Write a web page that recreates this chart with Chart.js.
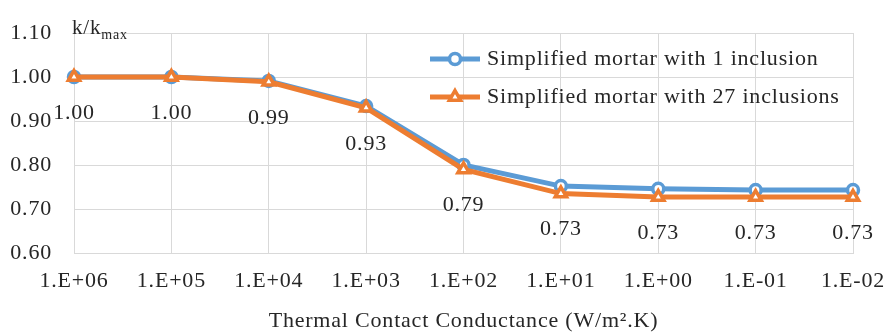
<!DOCTYPE html>
<html>
<head>
<meta charset="utf-8">
<script src="https://cdn.jsdelivr.net/npm/chart.js@4.4.1/dist/chart.umd.min.js"></script>
<style>
    html, body { margin: 0; padding: 0; background: #fff; }
    #wrap { width: 888px; height: 336px; position: relative; }
</style>
</head>
<body>
<div id="wrap"><canvas id="chart"></canvas></div>
<script>
// valeurs
const conductance = ["1.E+06", "1.E+05", "1.E+04", "1.E+03", "1.E+02", "1.E+01", "1.E+00", "1.E-01", "1.E-02"];
const one_inclusion = [1.00, 1.00, 0.991, 0.934, 0.800, 0.752, 0.746, 0.743, 0.743];
const many_inclusions = [1.00, 1.00, 0.989, 0.930, 0.790, 0.735, 0.727, 0.727, 0.727];
const y_ticks = [0.60, 0.70, 0.80, 0.90, 1.00, 1.10];

const serif = "'Liberation Serif', 'Times New Roman', serif";
const text_color = "#262626";
const blue = "#5B9BD5";
const orange = "#ED7D31";
const spacing = "0.8px";

// espacement des lettres comme dans la figure
const spacing_plugin = {
    id: "spacing",
    beforeUpdate(chart) {
        chart.ctx.letterSpacing = spacing;
    },
    beforeDraw(chart) {
        chart.ctx.letterSpacing = spacing;
    },
};

// etiquettes sous les points de la serie 27 inclusions
const label_plugin = {
    id: "valueLabels",
    afterDatasetsDraw(chart) {
        const ctx = chart.ctx;
        const meta = chart.getDatasetMeta(1);
        ctx.save();
        ctx.font = "22px " + serif;
        ctx.fillStyle = text_color;
        ctx.textAlign = "center";
        ctx.textBaseline = "middle";
        meta.data.forEach((pt, i) => {
            ctx.fillText(many_inclusions[i].toFixed(2), pt.x, pt.y + 36);
        });
        ctx.restore();
    },
};

// legende dans la zone du graphe + titre de l'axe y
const extras_plugin = {
    id: "extras",
    afterDraw(chart) {
        const ctx = chart.ctx;
        ctx.save();
        // k/kmax
        ctx.fillStyle = text_color;
        ctx.textBaseline = "alphabetic";
        ctx.textAlign = "left";
        ctx.font = "21px " + serif;
        ctx.fillText("k/k", 72, 34);
        const w = ctx.measureText("k/k").width;
        ctx.font = "14px " + serif;
        ctx.fillText("max", 72 + w, 39);

        const rows = [
            { ds: chart.data.datasets[0], y: 59 },
            { ds: chart.data.datasets[1], y: 97 },
        ];
        rows.forEach((r) => {
            ctx.strokeStyle = r.ds.borderColor;
            ctx.lineWidth = r.ds.borderWidth;
            ctx.beginPath();
            ctx.moveTo(430, r.y);
            ctx.lineTo(480, r.y);
            ctx.stroke();
            ctx.fillStyle = "#fff";
            ctx.lineWidth = r.ds.pointBorderWidth;
            Chart.helpers.drawPoint(ctx, {
                pointStyle: r.ds.pointStyle,
                radius: r.ds.pointRadius,
                borderWidth: r.ds.pointBorderWidth,
            }, 455, r.y);
            ctx.fillStyle = text_color;
            ctx.font = "22px " + serif;
            ctx.textBaseline = "middle";
            ctx.fillText(r.ds.label, 487, r.y);
        });
        ctx.restore();
    },
};

new Chart(document.getElementById("chart"), {
    type: "line",
    data: {
        labels: conductance,
        datasets: [
            {
                label: "Simplified mortar with 1 inclusion",
                data: one_inclusion,
                borderColor: blue,
                backgroundColor: "#fff",
                borderWidth: 5,
                pointStyle: "circle",
                pointRadius: 5.5,
                pointBorderWidth: 3.5,
                pointBackgroundColor: "#fff",
                pointBorderColor: blue,
                order: 1,
            },
            {
                label: "Simplified mortar with 27 inclusions",
                data: many_inclusions,
                borderColor: orange,
                backgroundColor: "#fff",
                borderWidth: 5,
                pointStyle: "triangle",
                pointRadius: 6.5,
                pointBorderWidth: 3.5,
                pointBackgroundColor: "#fff",
                pointBorderColor: orange,
                order: 0,
            },
        ],
    },
    options: {
        responsive: true,
        maintainAspectRatio: false,
        animation: false,
        layout: { padding: { left: 0, right: 35, top: 33, bottom: 0 } },
        plugins: {
            legend: { display: false },
            tooltip: { enabled: false },
        },
        scales: {
            x: {
                offset: false,
                grid: { color: "#d9d9d9", drawTicks: false },
                border: { color: "#d9d9d9" },
                ticks: {
                    color: text_color,
                    font: { family: serif, size: 22 },
                    padding: 15,
                    maxRotation: 0,
                    autoSkip: false,
                },
                title: {
                    display: true,
                    text: "Thermal Contact Conductance (W/m\u00B2.K)",
                    color: text_color,
                    font: { family: serif, size: 22 },
                    padding: { top: 0, bottom: 2 },
                },
                afterFit(scale) {
                    scale.height = 83;
                    scale.paddingLeft = 0;
                    scale.paddingRight = 0;
                },
            },
            y: {
                min: 0.6,
                max: 1.1,
                afterBuildTicks(scale) {
                    scale.ticks = y_ticks.map((v) => ({ value: v }));
                },
                grid: { color: "#d9d9d9", drawTicks: false },
                border: { display: false },
                ticks: {
                    color: text_color,
                    font: { family: serif, size: 22 },
                    padding: 22,
                    callback: (v) => Number(v).toFixed(2),
                },
                afterFit(scale) {
                    scale.width = 74;
                    scale.paddingTop = 0;
                    scale.paddingBottom = 0;
                },
            },
        },
    },
    plugins: [spacing_plugin, label_plugin, extras_plugin],
});
</script>
</body>
</html>
